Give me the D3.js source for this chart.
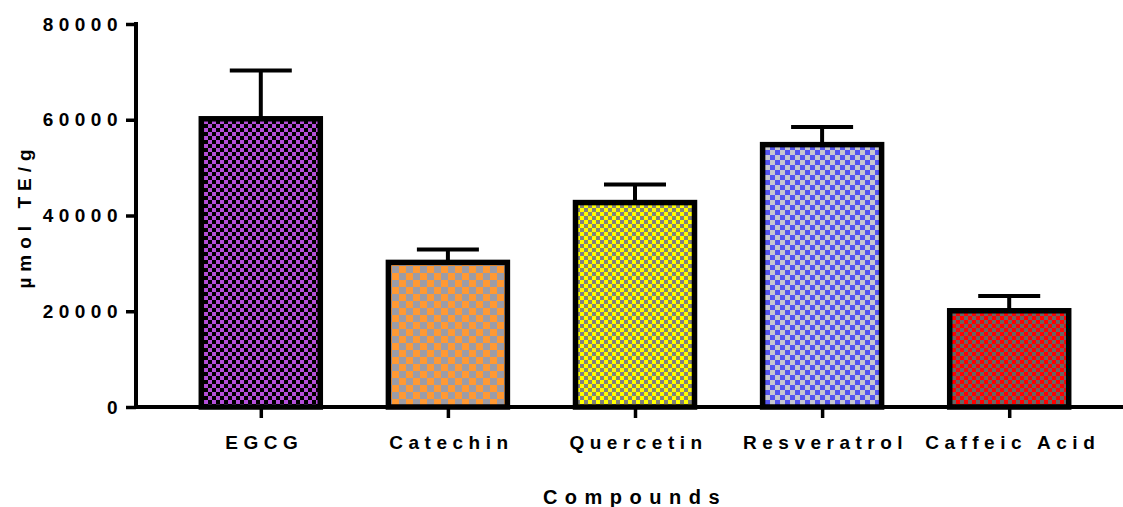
<!DOCTYPE html>
<html>
<head>
<meta charset="utf-8">
<script src="https://cdn.jsdelivr.net/npm/d3@7"></script>
<style>
  body { margin: 0; background: #fff; }
  svg text { font-family: "Liberation Sans", Arial, sans-serif; font-weight: bold; fill: #000; }
</style>
</head>
<body>
<svg id="bars" width="1123" height="507"></svg>
<script>
// chart values
const compounds = ["EGCG", "Catechin", "Quercetin", "Resveratrol", "Caffeic Acid"];
const means = [60200, 30200, 42700, 54800, 20100];
const sds = [10100, 2700, 3800, 3700, 3100];
const yTicks = [0, 20000, 40000, 60000, 80000];

// checker colours per bar: [main, second], cell size
const checkA = ["#b44fd9", "#ff9933", "#ffff00", "#5555f0", "#ff0000"];
const checkB = ["#000000", "#9c9ca6", "#808080", "#c8c8d0", "#666666"];
const cellSize = [4, 7, 4, 5, 4];

const svg = d3.select("svg#bars");

const xScale = d3.scalePoint().domain(compounds).range([136, 1134]).padding(0.667);
const yScale = d3.scaleLinear().domain([0, 80000]).range([407, 24]);
const barWidth = 119;

// patterns
const defs = svg.append("defs");
compounds.forEach( (c, i) => {
    let s = cellSize[i];
    let p = defs.append("pattern")
                .attr("id", "check" + i)
                .attr("patternUnits", "userSpaceOnUse")
                .attr("width", s * 2)
                .attr("height", s * 2);
    p.append("rect").attr("width", s * 2).attr("height", s * 2).attr("fill", checkA[i]);
    p.append("rect").attr("x", 0).attr("y", 0).attr("width", s).attr("height", s).attr("fill", checkB[i]);
    p.append("rect").attr("x", s).attr("y", s).attr("width", s).attr("height", s).attr("fill", checkB[i]);
});

let barData = compounds.map( (c, i) => ({name: c, mean: means[i], sd: sds[i], idx: i}) );

let barArea = svg.append("g").attr("class", "chart");

barArea.selectAll("rect.bar")
       .data(barData)
       .join("rect")
       .attr("class", "bar")
       .attr("x", d => xScale(d.name) - barWidth / 2)
       .attr("y", d => yScale(d.mean))
       .attr("width", barWidth)
       .attr("height", d => yScale(0) - yScale(d.mean))
       .attr("fill", d => "url(#check" + d.idx + ")")
       .attr("stroke", "#000")
       .attr("stroke-width", 5.5);

// error bars (upper only)
barArea.selectAll("line.err")
       .data(barData)
       .join("line")
       .attr("class", "err")
       .attr("x1", d => xScale(d.name))
       .attr("x2", d => xScale(d.name))
       .attr("y1", d => yScale(d.mean))
       .attr("y2", d => yScale(d.mean + d.sd))
       .attr("stroke", "#000")
       .attr("stroke-width", 4);

barArea.selectAll("line.cap")
       .data(barData)
       .join("line")
       .attr("class", "cap")
       .attr("x1", d => xScale(d.name) - 31)
       .attr("x2", d => xScale(d.name) + 31)
       .attr("y1", d => yScale(d.mean + d.sd))
       .attr("y2", d => yScale(d.mean + d.sd))
       .attr("stroke", "#000")
       .attr("stroke-width", 4);

// axes
let xAxis = svg.append("g")
               .attr("class", "x axis")
               .attr("transform", "translate(0," + yScale(0) + ")")
               .call(d3.axisBottom(xScale).tickSize(11).tickSizeOuter(0));
xAxis.select(".domain").attr("stroke-width", 4).attr("d", "M134,0H1134");
xAxis.selectAll(".tick line").attr("stroke-width", 3.5);
xAxis.selectAll(".tick text")
     .attr("y", 42)
     .attr("dy", 0)
     .attr("dx", 3)
     .style("font-size", "19px")
     .style("letter-spacing", "5.5px");

let yAxis = svg.append("g")
               .attr("class", "y axis")
               .attr("transform", "translate(136,0)")
               .call(d3.axisLeft(yScale).tickValues(yTicks).tickFormat(d3.format("d")).tickSize(10).tickPadding(3).tickSizeOuter(0));
yAxis.select(".domain").attr("stroke-width", 4).attr("d", "M0,22V409");
yAxis.selectAll(".tick line").attr("stroke-width", 3.5);
yAxis.selectAll(".tick text")
     .style("font-size", "19px")
     .style("letter-spacing", "5.5px");

// titles
svg.append("text")
   .attr("transform", "translate(31,216) rotate(-90)")
   .attr("text-anchor", "middle")
   .style("font-size", "19px")
   .style("letter-spacing", "6px")
   .text("µmol TE/g");

svg.append("text")
   .attr("x", (136 + 1134) / 2)
   .attr("y", 504)
   .attr("text-anchor", "middle")
   .style("font-size", "20px")
   .style("letter-spacing", "7.5px")
   .text("Compounds");
</script>
</body>
</html>
